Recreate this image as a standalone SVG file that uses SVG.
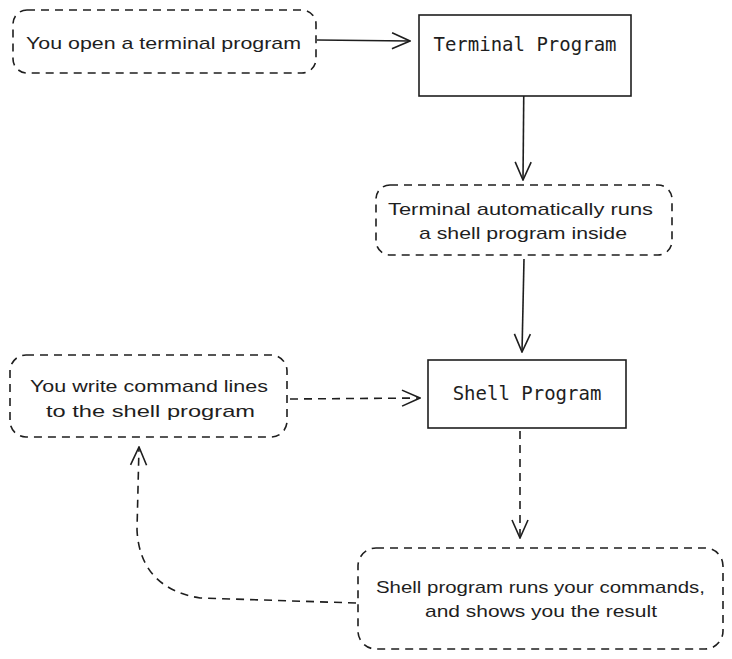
<svg xmlns="http://www.w3.org/2000/svg" width="732" height="659" viewBox="0 0 732 659">
<defs>
<style>
.dbox{fill:none;stroke:#1e1e1e;stroke-width:1.6;stroke-dasharray:8 6}
.box{fill:#fff;stroke:#1e1e1e;stroke-width:1.6}
.hand{font-family:"Liberation Sans","Open Sans",sans-serif;font-size:17px;fill:#1e1e1e}
.mono{font-family:"DejaVu Sans Mono","Liberation Mono",monospace;font-size:19px;fill:#1e1e1e}
.line{fill:none;stroke:#1e1e1e;stroke-width:1.6}
.dash{stroke-dasharray:8 6}
</style>
<marker id="arr" viewBox="0 0 20 20" refX="19" refY="10" markerWidth="20" markerHeight="20" markerUnits="userSpaceOnUse" orient="auto">
<path d="M1,2 L19,10 L1,18" fill="none" stroke="#1e1e1e" stroke-width="1.6"/>
</marker>
</defs>
<rect width="732" height="659" fill="#fff"/>
<g id="connectors">
<path class="line" d="M317,40 L410,41" marker-end="url(#arr)"/>
<path class="line" d="M524,68 L523,180" marker-end="url(#arr)"/>
<path class="line" d="M524,259 L522,352" marker-end="url(#arr)"/>
<path class="line dash" d="M290,399 L420,398" marker-end="url(#arr)"/>
<path class="line dash" d="M520,431 L520,538" marker-end="url(#arr)"/>
<path class="line dash" d="M356,603 L200,598 Q140,588 137,530 L139,447" marker-end="url(#arr)"/>
</g>
<g id="n1">
<rect class="dbox" x="13" y="10" width="303" height="63" rx="14"/>
<text class="hand" x="26" y="49" textLength="275" lengthAdjust="spacingAndGlyphs">You open a terminal program</text>
</g>
<g id="n2">
<rect class="box" x="419" y="15" width="212" height="81"/>
<text class="mono" x="525" y="51" text-anchor="middle">Terminal Program</text>
</g>
<g id="n3">
<rect class="dbox" x="376" y="185" width="296" height="70" rx="14"/>
<text class="hand" x="388" y="215" textLength="265" lengthAdjust="spacingAndGlyphs">Terminal automatically runs</text>
<text class="hand" x="419" y="239" textLength="208" lengthAdjust="spacingAndGlyphs">a shell program inside</text>
</g>
<g id="n4">
<rect class="box" x="428" y="360" width="198" height="68"/>
<text class="mono" x="527" y="400" text-anchor="middle">Shell Program</text>
</g>
<g id="n5">
<rect class="dbox" x="10" y="355" width="277" height="82" rx="16"/>
<text class="hand" x="30" y="392" textLength="238" lengthAdjust="spacingAndGlyphs">You write command lines</text>
<text class="hand" x="46" y="417" textLength="209" lengthAdjust="spacingAndGlyphs">to the shell program</text>
</g>
<g id="n6">
<rect class="dbox" x="358" y="548" width="365" height="101" rx="18"/>
<text class="hand" x="376" y="593" textLength="329" lengthAdjust="spacingAndGlyphs">Shell program runs your commands,</text>
<text class="hand" x="425" y="617" textLength="232" lengthAdjust="spacingAndGlyphs">and shows you the result</text>
</g>
</svg>
